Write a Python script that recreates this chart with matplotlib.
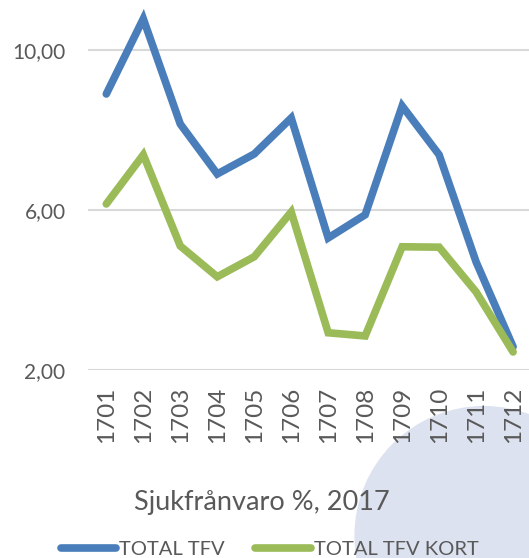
import matplotlib
matplotlib.use("Agg")
import matplotlib.pyplot as plt
from matplotlib.patches import Ellipse

months = ["1701", "1702", "1703", "1704", "1705", "1706",
          "1707", "1708", "1709", "1710", "1711", "1712"]
total_tfv = [8.9, 10.78, 8.15, 6.9, 7.4, 8.3, 5.3, 5.88, 8.6, 7.38, 4.7, 2.58]
total_tfv_kort = [6.15, 7.38, 5.1, 4.33, 4.83, 5.95, 2.93, 2.85, 5.08, 5.07, 3.95, 2.45]

blue = "#4a7ebb"
green = "#9bbb59"
text_col = "#595959"

plt.rcParams["font.family"] = ["Lato", "DejaVu Sans"]

fig = plt.figure(figsize=(5.29, 5.58), dpi=100)

# pale decorative circle behind everything
fig.patches.append(Ellipse((0.915, 0.040), 0.49, 0.465, transform=fig.transFigure,
                           facecolor="#dde2f0", edgecolor="none", zorder=-5))

ax = fig.add_axes([0.166, 0.337, 0.834, 0.663])
ax.set_zorder(2)
ax.patch.set_alpha(0)

x = range(len(months))
ax.plot(x, total_tfv, color=blue, lw=5.5, solid_joinstyle="miter",
        solid_capstyle="round", label="TOTAL TFV", zorder=3)
ax.plot(x, total_tfv_kort, color=green, lw=5.5, solid_joinstyle="miter",
        solid_capstyle="round", label="TOTAL TFV KORT", zorder=3)

ax.set_ylim(2, 11.25)
ax.set_xlim(-0.5, 11.43)
ax.set_yticks([2, 6, 10])
ax.set_yticklabels(["2,00", "6,00", "10,00"])
ax.set_xticks(list(x))
ax.set_xticklabels(months, rotation=90)
ax.grid(axis="y", color="#d9d9d9", lw=1.5, zorder=0)
ax.set_axisbelow(True)
for s in ax.spines.values():
    s.set_visible(False)
ax.tick_params(axis="y", length=0, pad=16, labelsize=15, labelcolor=text_col)
ax.tick_params(axis="x", length=0, pad=12, labelsize=17.5, labelcolor=text_col)

fig.text(0.495, 0.099, "Sjukfrånvaro %, 2017", ha="center", va="center",
         fontsize=19.5, color=text_col, zorder=3)

leg = fig.legend(loc="center", bbox_to_anchor=(0.51, 0.016), ncol=2, frameon=False,
                 fontsize=14.5, handlelength=2.75, handletextpad=0.15, columnspacing=1.5,
                 labelcolor=text_col)
leg.set_zorder(3)

fig.savefig("out.png", dpi=100)
